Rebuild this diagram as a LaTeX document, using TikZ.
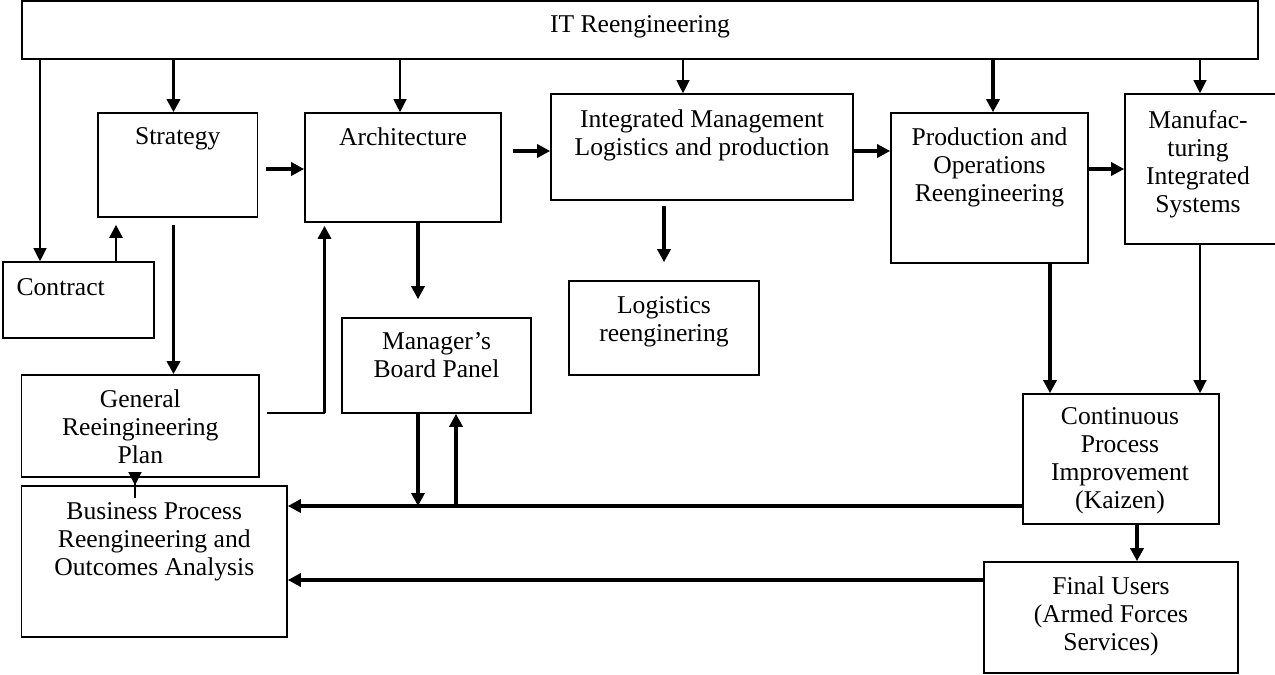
\documentclass[tikz,border=0pt]{standalone}
\usepackage{fontspec}
\setmainfont{Liberation Serif}
\usepackage{tikz}
\usetikzlibrary{arrows.meta}
\tikzset{
  box/.style={draw,line width=.8pt,inner sep=0pt},
  txt/.style={anchor=north,align=center,inner sep=0pt,yshift=-7.5pt,font=\fontsize{12.8}{14}\selectfont},
  thinarr/.style={->,line width=.6pt},
  thickarr/.style={->,line width=1.6pt},
  >={Triangle[length=6.5pt,width=6.5pt]}
}
\begin{document}
\begin{tikzpicture}[x=.5pt,y=-.5pt]
\useasboundingbox (0,0) rectangle (1275,675);
%boxes
\node[box,minimum width=618pt,minimum height=29pt,label={[txt]north:IT Reengineering}](it)at(640,30){};
\node[box,minimum width=79.75pt,minimum height=52pt,label={[txt]north:Strategy}](strategy)at(177.75,165){};
\node[box,minimum width=98pt,minimum height=54.5pt,label={[txt]north:Architecture}](arch)at(403,167.5){};
\node[box,minimum width=151pt,minimum height=53pt,label={[txt,yshift=-.5pt]north:Integrated Management\\Logistics and production}](intm)at(702,147){};
\node[box,minimum width=98.5pt,minimum height=75pt,label={[txt]north:Production and\\Operations\\Reengineering}](prod)at(989.5,188){};
\node[box,minimum width=82.5pt,minimum height=75pt,label={[txt,xshift=-4.75pt,yshift=-1pt]north:Manufac-\\turing\\Integrated\\Systems}](manuf)at(1207.5,169){};
\node[box,minimum width=75.5pt,minimum height=38pt,label={[txt,anchor=north west,xshift=7pt,yshift=-1pt]north west:Contract}](contract)at(78.5,300){};
\node[box,minimum width=95pt,minimum height=47pt,label={[txt,yshift=-.5pt]north:Logistics\\reenginering}](logis)at(664,328){};
\node[box,minimum width=94.5pt,minimum height=47.5pt,label={[txt]north:Manager’s\\Board Panel}](mgr)at(436.5,365.5){};
\node[box,minimum width=118.7pt,minimum height=51pt,label={[txt]north:General\\Reeingineering\\Plan}](grp)at(140.3,426){};
\node[box,minimum width=132.7pt,minimum height=75.5pt,label={[txt,yshift=-1pt]north:Business Process\\Reengineering and\\Outcomes Analysis}](bpr)at(154.3,561.5){};
\node[box,minimum width=98pt,minimum height=65pt,label={[txt,xshift=-.5pt,yshift=.5pt]north:Continuous\\Process\\Improvement\\(Kaizen)}](cpi)at(1121,459){};
\node[box,minimum width=127pt,minimum height=55.5pt,label={[txt]north:Final Users\\(Armed Forces\\Services)}](fu)at(1111,617.5){};
%arrows from IT Reengineering
\draw[thinarr](it.south -| 40,0)--(contract.north -| 40,0);
\draw[thickarr](it.south -| 173.5,0)--(strategy.north -| 173.5,0);
\draw[thinarr](it.south -| 400,0)--(arch.north -| 400,0);
\draw[thinarr](it.south -| 683,0)--(intm.north -| 683,0);
\draw[thickarr](it.south -| 993,0)--(prod.north -| 993,0);
\draw[thinarr](it.south -| 1200,0)--(manuf.north -| 1200,0);
%main chain
\draw[thickarr,shorten <=4pt](strategy.east |- 0,169)--(arch.west |- 0,169);
\draw[thickarr,shorten <=5.5pt](arch.east |- 0,151)--(intm.west |- 0,151);
\draw[thickarr](intm.east |- 0,151)--(prod.west |- 0,151);
\draw[thickarr](prod.east |- 0,169)--(manuf.west |- 0,169);
%down the left side
\draw[thickarr,line width=1.2pt,shorten >=3.5pt](contract.north -| 116,0)--(strategy.south -| 116,0);
\draw[thickarr,shorten <=3.5pt](strategy.south -| 173.5,0)--(grp.north -| 173.5,0);
\draw[thinarr,shorten <=-10pt](grp.south -| 135,0)--(bpr.north -| 135,0);
\coordinate(bend)at(324.5,413);
\draw[line width=.6pt,shorten <=3.5pt](grp.east |- bend)--(bend);
\draw[thickarr,shorten >=1.5pt](bend)--(arch.south -| bend);
%middle
\draw[thickarr,shorten >=9pt](arch.south -| 418,0)--(mgr.north -| 418,0);
\draw[thickarr,shorten <=2.5pt,shorten >=9pt](intm.south -| 664,0)--(logis.north -| 664,0);
\draw[thickarr](mgr.south -| 418,0)--(418,506);
\draw[thickarr](456,506)--(mgr.south -| 456,0);
%right side and feedback
\draw[thickarr](prod.south -| 1050,0)--(cpi.north -| 1050,0);
\draw[thinarr](manuf.south -| 1200,0)--(cpi.north -| 1200,0);
\draw[thickarr](cpi.south -| 1137,0)--(fu.north -| 1137,0);
\draw[thickarr](cpi.west |- 0,506)--(bpr.east |- 0,506);
\draw[thickarr](fu.west |- 0,580)--(bpr.east |- 0,580);
\end{tikzpicture}
\end{document}
